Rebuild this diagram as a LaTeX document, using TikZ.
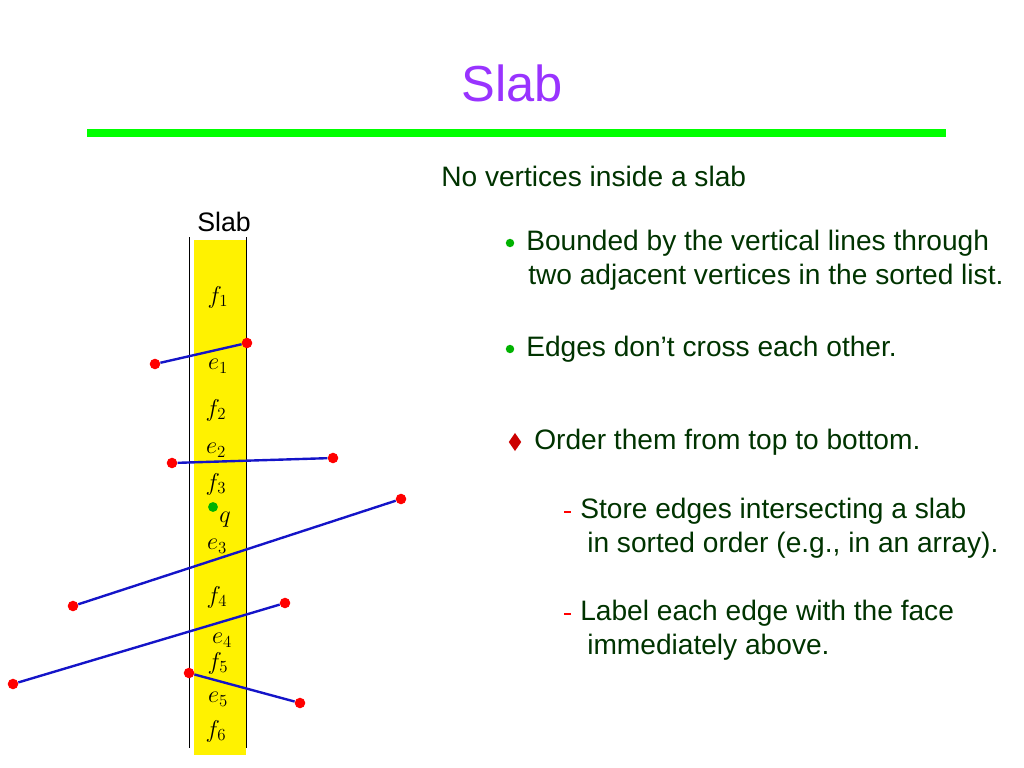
\documentclass[tikz,border=0pt]{standalone}
\usepackage{fontspec}
\setmainfont{Liberation Sans}
\usepackage{amsmath}
\usetikzlibrary{shapes.geometric}
\definecolor{txtgreen}{RGB}{0,51,0}
\definecolor{ttlpurple}{RGB}{153,51,255}
\definecolor{barlime}{RGB}{0,255,0}
\definecolor{edgeblue}{RGB}{20,20,200}
\tikzset{
  txt/.style={anchor=west, inner sep=0pt, text=txtgreen, font=\fontsize{20}{22}\selectfont},
  lbl/.style={inner sep=0pt, font=\fontsize{17}{19}\selectfont},
  vtx/.style={circle, fill=red, inner sep=0pt, minimum size=7.5pt},
  bul/.style={circle, fill=green!70!black, inner sep=0pt, minimum size=6pt},
  edge/.style={edgeblue, line width=1.7pt},
}
\begin{document}
\begin{tikzpicture}[x=0.025cm,y=-0.025cm]
\useasboundingbox (0,0) rectangle (1024,768);

\node[font=\fontsize{36}{40}\selectfont, text=ttlpurple] (title) at (512,83) {Slab};
\draw[barlime, line width=5pt] (87,133) -- (946,133);
\node[txt] (sub) at (441,176) {No vertices inside a slab};

% the slab
\fill[yellow] (194,240) rectangle (246,755);
\draw (189,237) -- (189,748);
\draw (246,237) -- (246,748);
\node[font=\fontsize{19}{21}\selectfont] (slab) at (224,222) {Slab};

% faces and edges
\node[lbl] at (218,297) {$f_1$};
\node[lbl] at (218,366) {$e_1$};
\node[lbl] at (216,410) {$f_2$};
\node[lbl] at (216,450) {$e_2$};
\node[lbl] at (216,484) {$f_3$};
\node[lbl] at (225,520) {$q$};
\node[bul, minimum size=7pt] (q) at (213,507) {};
\node[lbl] at (217,546) {$e_3$};
\node[lbl] at (217,597) {$f_4$};
\node[lbl] at (222,640) {$e_4$};
\node[lbl] at (218,663) {$f_5$};
\node[lbl] at (218,699) {$e_5$};
\node[lbl] at (216,731) {$f_6$};

\foreach \i/\ax/\ay/\bx/\by in {1/155/364/247/343, 2/172/463/333/458, 3/73/606/401/499, 4/13/684/285/603, 5/189/673/300/703} {
  \node[vtx] (a\i) at (\ax,\ay) {};
  \node[vtx] (b\i) at (\bx,\by) {};
  \draw[edge] (a\i) -- (b\i);
}

% text on the right
\node[bul] at (510,243) {};
\node[txt] at (526,243) {Bounded by the vertical lines through};
\node[txt] at (528,277) {two adjacent vertices in the sorted list.};
\node[bul] at (510,349) {};
\node[txt] at (526,349) {Edges don’t cross each other.};
\node[diamond, fill=red!80!black, inner sep=0pt, minimum width=9pt, minimum height=13pt] at (515,442) {};
\node[txt] at (534,442) {Order them from top to bottom.};
\draw[red, line width=1.3pt] (564,512) -- (571,512);
\node[txt] at (580,511) {Store edges intersecting a slab};
\node[txt] at (587,545) {in sorted order (e.g., in an array).};
\draw[red, line width=1.3pt] (564,614) -- (571,614);
\node[txt] at (580,613) {Label each edge with the face};
\node[txt] at (587,647) {immediately above.};
\end{tikzpicture}
\end{document}
